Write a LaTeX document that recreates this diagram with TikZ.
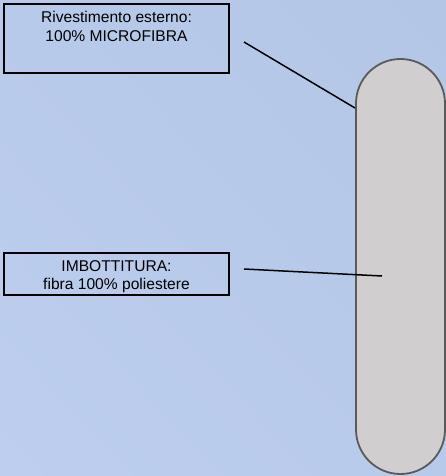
\documentclass[tikz,border=0pt]{standalone}
\usepackage{fontspec}
\setmainfont{Liberation Sans}
\usetikzlibrary{shadings}
\definecolor{capfill}{HTML}{D0CECE}
\definecolor{capdraw}{HTML}{5A5A5A}
\definecolor{bgA}{HTML}{BDCEEE}
\definecolor{bgB}{HTML}{B3C6E6}
\definecolor{bgC}{HTML}{B8CAEA}
\tikzset{
  labelbox/.style={draw=black, line width=1.5pt, inner sep=0pt},
  labeltext/.style={font=\fontsize{15.6}{18.5}\selectfont, align=center, inner sep=0pt},
  leader/.style={draw=black, line width=1.5pt},
  capsule/.style={fill=capfill, draw=capdraw, line width=1.8pt, rounded corners=44.5pt}
}
\begin{document}
\begin{tikzpicture}[x=1pt,y=-1pt]
\useasboundingbox (0,0) rectangle (446,476);
\shade[upper left=bgC, upper right=bgB, lower left=bgA, lower right=bgC] (0,0) rectangle (446,476);
% capsule
\draw[capsule] (356,59) rectangle (445,474);
\node[inner sep=0pt, minimum width=89pt, minimum height=415pt] (cap) at (400.5,266.5) {};
% box 1
\node[labelbox, minimum width=225pt, minimum height=69pt] (box1) at (116.5,38.5) {};
\node[labeltext, anchor=base] (t1a) at (116.5,22.7) {Rivestimento esterno:};
\node[labeltext, anchor=base] (t1b) at (116.5,41.5) {100\% MICROFIBRA};
% box 2
\node[labelbox, minimum width=225pt, minimum height=42pt] (box2) at (116.5,274) {};
\node[labeltext, anchor=base] (t2a) at (116.5,271.5) {IMBOTTITURA:};
\node[labeltext, anchor=base] (t2b) at (116.5,289) {fibra 100\% poliestere};
% leaders
\coordinate (l1s) at (244,42);
\coordinate (l1e) at (355,108);
\coordinate (l2s) at (244,269);
\coordinate (l2e) at (382,276);
\draw[leader] (l1s) -- (l1e);
\draw[leader] (l2s) -- (l2e);
\end{tikzpicture}
\end{document}
